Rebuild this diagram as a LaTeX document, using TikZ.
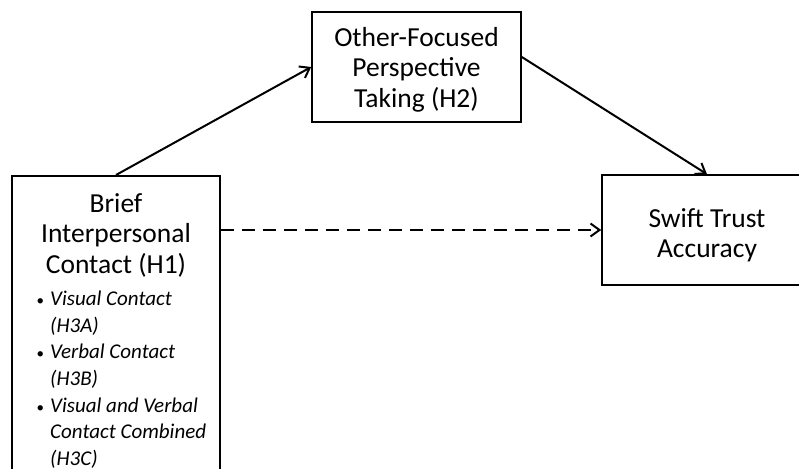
\documentclass[tikz,border=0pt]{standalone}
\usepackage{fontspec}
\setmainfont{Carlito}
\usetikzlibrary{arrows.meta}
\newcommand{\mybul}{\llap{\upshape\fontsize{15}{15}\selectfont\textbullet\hspace{6pt}}}
\begin{document}
\begin{tikzpicture}[x=1pt,y=1pt,
  box/.style={draw, line width=1.6pt, inner sep=0pt},
  big/.style={font=\fontsize{27.5}{30.5}\selectfont, align=center, inner sep=0pt},
  small/.style={font=\fontsize{21}{26.6}\selectfont\itshape, align=left, inner sep=0pt},
  conn/.style={line width=2pt, -{Straight Barb[length=9pt,width=13pt,line width=2pt]}}]
\useasboundingbox (0,0) rectangle (799,468);
\clip (0,0) rectangle (799,468);
% boxes
\node[box, minimum width=208pt, minimum height=310pt, anchor=north] (left) at (116,293) {};
\node[box, minimum width=209pt, minimum height=110pt] (top) at (416.5,401) {};
\node[box, minimum width=210pt, minimum height=110pt] (right) at (707,238) {};
% texts
\node[big, anchor=north] (lefttext) at (116,275) {Brief\\Interpersonal\\Contact (H1)};
\node[small, anchor=north west] (list) at (50,177) {\mybul Visual Contact\\(H3A)\\\mybul Verbal Contact\\(H3B)\\\mybul Visual and Verbal\\Contact Combined\\(H3C)};
\node[big, anchor=north] (toptext) at (416.5,441) {Other-Focused\\Perspective\\Taking (H2)};
\node[big, anchor=north] (righttext) at (707,260) {Swift Trust\\Accuracy};
% connectors
\draw[conn] (left.north) -- (top.west);
\draw[conn] ([yshift=10pt]top.east) -- (right.north);
\draw[conn, dash pattern=on 13pt off 8pt] (right.west -| left.east) -- (right.west);
\end{tikzpicture}
\end{document}
